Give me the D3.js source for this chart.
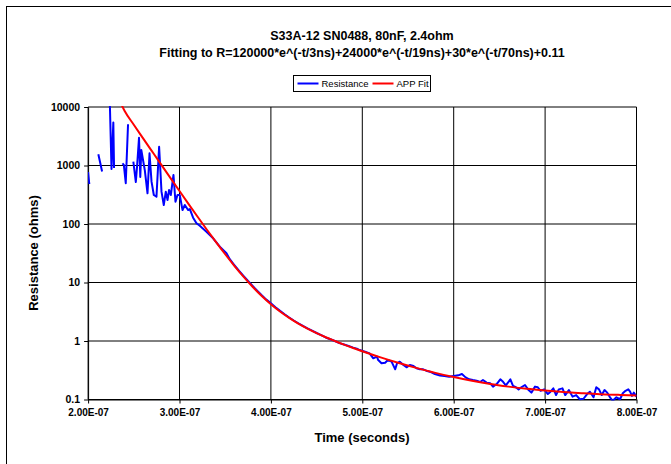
<!DOCTYPE html>
<html><head><meta charset="utf-8">
<script src="https://cdn.jsdelivr.net/npm/d3@7"></script>
<style>html,body{margin:0;padding:0;background:#fff;} svg{display:block;font-family:"Liberation Sans",Arial,sans-serif;}</style>
</head><body>
<svg id="chart" width="671" height="464"></svg>
<script>
const titleLines = ["S33A-12 SN0488, 80nF, 2.4ohm",
  "Fitting to R=120000*e^(-t/3ns)+24000*e^(-t/19ns)+30*e^(-t/70ns)+0.11"];
const seriesNames = ["Resistance", "APP Fit"];
const xTicks = [200, 300, 400, 500, 600, 700, 800]; // ns
const xTickLabels = ["2.00E-07","3.00E-07","4.00E-07","5.00E-07","6.00E-07","7.00E-07","8.00E-07"];
const yTicks = [0.1, 1, 10, 100, 1000, 10000];
const yTickLabels = ["0.1","1","10","100","1000","10000"];
const xTitle = "Time (seconds)";
const yTitle = "Resistance (ohms)";

// Measured resistance (time in ns, value in ohms); null = gap (no positive value)
const resTimeNs = [200.0,201.3,205,211.2,213.3,215.3,220,223.7,225.6,227.6,228.4,233,237.6,239.1,241.2,243.7,247,
  249.5,252.2,253.6,255.7,257.1,258.2,262.0,265.0,267.2,269.4,271.9,274.8,277.7,280.3,282.8,285.0,286.9,288.6,290.5,
  293.4,295.6,297.8,300.3,303.3,305.8,309.4,311.3,314.9,318.6,322.2,329.5,336.8,344.1,351.4,
  355,360,365,370,375,380,385,390,395,400,405,410,415,420,425,430,435,440,445,450,455,460,465,470,475,480,485,490,494,497,
  503,508,512,516,517.4,521,525,528,532,536,538,541,545,548.4,552,556,559.3,563,566.6,570,574,579.4,585,590,595,600,605,609,
  613,617,621,625,629,632,636,640,643,647,651,654,657,660,662,665,668,671,674,678,682,685,689,692,695,699,703,706,709,712,
  715,719,722,726,730,734,738,742,746,749,753,756,759,762,765,768,771,774,778,782,785,788,791,793,795,797,800];
const resOhms = [774,483,null,1552,1104,788,null,13000,871,5430,906,null,1092,1021,497,5060,null,
  1161,522,980,2987,636,1841,838,335,1617,529,313,293,2096,357,211,357,257,381,313,
  688,240,313,313,173,211,173,180,128,103,93.5,73.8,57,40.9,31.6,
  25.0,19.9,15.9,13.0,10.6,8.75,7.25,6.05,5.1,4.4,3.78,3.27,2.86,2.52,2.24,2.01,1.81,1.64,1.50,1.37,1.26,1.15,1.07,1.0,0.92,0.87,0.82,0.77,0.74,0.70,
  0.656,0.615,0.506,0.540,0.473,0.416,0.426,0.473,0.443,0.328,0.416,0.443,0.389,0.355,0.389,0.374,0.341,0.328,0.328,0.311,0.299,0.273,0.258,0.252,0.245,0.252,0.259,0.273,
  0.239,0.221,0.215,0.210,0.199,0.215,0.194,0.189,0.166,0.184,0.221,0.201,0.175,0.201,0.221,0.170,0.162,0.149,0.162,0.177,0.145,0.131,0.166,0.162,0.141,0.149,0.124,0.136,0.155,0.119,
  0.149,0.155,0.119,0.145,0.112,0.119,0.101,0.103,0.124,0.136,0.109,0.162,0.149,0.119,0.145,0.131,0.109,0.095,0.109,0.101,0.128,0.141,0.149,0.136,0.115,0.131,0.112];

// APP fit curve (time in ns, value in ohms)
const fitTimeNs = [230,240,250,260,270,280,290,300,310,320,330,340,350,360,370,380,390,400,410,420,430,440,450,460,470,480,490,500,
  520,540,560,580,600,620,640,660,680,700,720,740,760,780,800];
const fitOhms = [18486,8552,4973,2940,1742,1033,614,366,219,131.6,79.8,48.9,30.4,19.3,12.6,8.45,5.87,4.25,3.19,2.48,1.98,1.63,1.365,1.16,1.00,0.868,0.76,0.669,
  0.525,0.421,0.344,0.285,0.242,0.209,0.184,0.166,0.152,0.142,0.134,0.128,0.123,0.120,0.1176];

const svg = d3.select("#chart");
svg.append("rect").attr("width",671).attr("height",464).attr("fill","#fff");
svg.append("rect").attr("x",6.5).attr("y",6.5).attr("width",700).attr("height",500)
  .attr("fill","none").attr("stroke","#000").attr("stroke-width",1);

const x = d3.scaleLinear().domain([200,800]).range([88.1,636.5]);
const y = d3.scaleLog().domain([0.1,10000]).range([399.5,107]);

// Titles
svg.selectAll("text.title").data(titleLines).join("text")
  .attr("class","title").attr("x",362).attr("y",(d,i)=>40+i*17)
  .attr("text-anchor","middle").attr("font-size","12.5px").attr("font-weight","bold").text(d=>d);

// Gridlines
const grid = svg.append("g");
grid.selectAll("line.h").data(yTicks).join("line")
  .attr("x1",x.range()[0]).attr("x2",x.range()[1]).attr("y1",d=>y(d)).attr("y2",d=>y(d))
  .attr("stroke","#000").attr("stroke-width",1);
grid.selectAll("line.v").data(xTicks).join("line")
  .attr("y1",y.range()[0]).attr("y2",y.range()[1]).attr("x1",d=>x(d)).attr("x2",d=>x(d))
  .attr("stroke","#000").attr("stroke-width",1);

// Axes
const xAxis = svg.append("g").attr("transform",`translate(0,${y.range()[0]})`)
  .call(d3.axisBottom(x).tickValues(xTicks).tickFormat((d,i)=>xTickLabels[i]).tickSize(4).tickSizeOuter(0).tickPadding(5));
const yAxis = svg.append("g").attr("transform",`translate(${x.range()[0]},0)`)
  .call(d3.axisLeft(y).tickValues(yTicks).tickFormat((d,i)=>yTickLabels[i]).tickSize(4).tickSizeOuter(0).tickPadding(4));
[xAxis,yAxis].forEach(g=>{
  g.selectAll("path,line").attr("stroke","#000");
  g.selectAll("text").attr("font-family","'Liberation Sans',Arial,sans-serif").attr("font-weight","bold").attr("fill","#000");
});
xAxis.selectAll("text").attr("font-size","10px");
yAxis.selectAll("text").attr("font-size","10.5px");

// Axis titles
svg.append("text").attr("x",362).attr("y",442).attr("text-anchor","middle")
  .attr("font-size","13px").attr("font-weight","bold").text(xTitle);
svg.append("text").attr("transform",`translate(38,253) rotate(-90)`).attr("text-anchor","middle")
  .attr("font-size","13px").attr("font-weight","bold").text(yTitle);

// Clip
svg.append("clipPath").attr("id","plotclip").append("rect")
  .attr("x",x.range()[0]).attr("y",y.range()[1]-1).attr("width",x.range()[1]-x.range()[0]).attr("height",y.range()[0]-y.range()[1]+2);

const resData = resTimeNs.map((t,i)=>({t, v:resOhms[i]}));
const fitData = fitTimeNs.map((t,i)=>({t, v:fitOhms[i]}));

const plot = svg.append("g").attr("clip-path","url(#plotclip)");
plot.append("path").datum(resData)
  .attr("d", d3.line().defined(d=>d.v!==null && d.v>0).x(d=>x(d.t)).y(d=>y(d.v)))
  .attr("fill","none").attr("stroke","#0000FF").attr("stroke-width",2).attr("stroke-linejoin","round");
plot.append("path").datum(fitData)
  .attr("d", d3.line().curve(d3.curveMonotoneX).x(d=>x(d.t)).y(d=>y(d.v)))
  .attr("fill","none").attr("stroke","#FF0000").attr("stroke-width",2);

// Legend
const lg = svg.append("g").attr("transform","translate(293.5,75.5)");
lg.append("rect").attr("width",137).attr("height",16).attr("fill","#fff").attr("stroke","#000");
const colors = ["#0000FF","#FF0000"];
const lx = [4, 79];
seriesNames.forEach((n,i)=>{
  lg.append("line").attr("x1",lx[i]).attr("x2",lx[i]+21).attr("y1",8).attr("y2",8)
    .attr("stroke",colors[i]).attr("stroke-width",2);
  lg.append("text").attr("x",lx[i]+24).attr("y",11.5).attr("font-size","9.5px").text(n);
});
</script>
</body></html>
